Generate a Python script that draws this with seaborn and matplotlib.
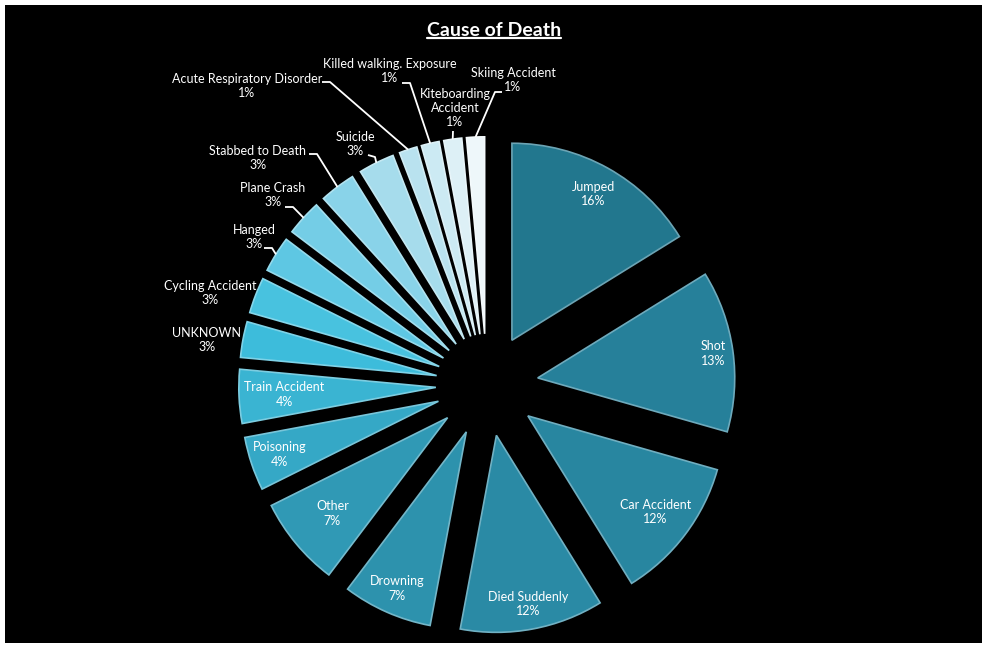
import matplotlib
matplotlib.use("Agg")
import matplotlib.pyplot as plt
import numpy as np
import seaborn as sns

###############################################################################
# Data (slices clockwise from 12 o'clock).

causes = [
    "Jumped", "Shot", "Car Accident", "Died Suddenly", "Drowning", "Other",
    "Poisoning", "Train Accident", "UNKNOWN", "Cycling Accident", "Hanged",
    "Plane Crash", "Stabbed to Death", "Suicide",
    "Acute Respiratory Disorder", "Killed walking. Exposure",
    "Kiteboarding\nAccident", "Skiing Accident",
]
deaths = [11, 9, 8, 8, 5, 5, 3, 3, 2, 2, 2, 2, 2, 2, 1, 1, 1, 1]
colors = [
    "#22778E", "#26809A", "#2886A0", "#2A8AA5", "#2D92AD", "#3099B5",
    "#35A8C6", "#3AB4D2", "#3DBCDB", "#48C2DF", "#5EC7E3", "#74CDE6",
    "#89D3E9", "#A6DCEC", "#B9E2EF", "#CCEAF3", "#DDF0F6", "#EEF7FA",
]

###############################################################################
# Layout (image pixels, y from top).

W, H = 987, 648
center_px = (487, 385)
radius = 197
explode_frac = 0.26
# inside labels: distance from the wedge tip, as a fraction of the radius
inside_dist = [0.85, 0.90, 0.81, 0.87, 0.87, 0.76, 0.85, 0.77]
# outside label centres
outer_text = {
    8: (207, 340), 9: (210, 293), 10: (254, 237), 11: (273, 195),
    12: (258, 158), 13: (355, 144), 14: (247, 86), 15: (390, 71),
    16: (455, 108), 17: (513, 80),
}
# leader line start points (the line ends on the wedge's outer arc)
leader_start = {
    10: [(264, 248), (272, 248)], 11: [(285, 207), (293, 207)],
    12: [(309, 154), (317, 154)], 13: [(368, 155), (375, 157)],
    14: [(322, 82), (330, 82)], 15: [(402, 83), (410, 83)],
    16: [(453, 131)], 17: [(502, 92), (495, 92)],
}


def py(y):
    return H - y


###############################################################################
# Plot settings.

sns.set_style("dark")
plt.rcParams["font.family"] = ["Lato", "DejaVu Sans"]

fig = plt.figure(figsize=(W / 100, H / 100), dpi=100)
fig.patch.set_facecolor("white")
ax = fig.add_axes([5 / W, 5 / H, (W - 10) / W, (H - 10) / H])
ax.set_facecolor("black")

total = sum(deaths)
pcts = ["{:.0f}%".format(100 * d / total) for d in deaths]
edge = [sns.blend_palette([c, "#ffffff"], 4)[1] for c in colors]

# explode is in data units when radius != 1
wedges, _ = ax.pie(
    deaths, colors=colors, startangle=90, counterclock=False,
    explode=[explode_frac * radius] * len(deaths), radius=radius,
    center=(center_px[0], py(center_px[1])), frame=True,
    wedgeprops=dict(linewidth=1.2))
for w, e in zip(wedges, edge):
    w.set_edgecolor(e)

ax.set_xlim(5, W - 5)
ax.set_ylim(5, H - 5)
ax.set_aspect("equal")
ax.set_xticks([])
ax.set_yticks([])
for s in ax.spines.values():
    s.set_visible(False)

###############################################################################
# Labels.

for i, w in enumerate(wedges):
    mid = np.deg2rad((w.theta1 + w.theta2) / 2)
    cx, cy = w.center
    txt = "{}\n{}".format(causes[i], pcts[i])
    if i < len(inside_dist):
        d = inside_dist[i] * w.r
        ax.text(cx + d * np.cos(mid), cy + d * np.sin(mid), txt,
                color="white", fontsize=9, ha="center", va="center",
                linespacing=1.25)
        continue
    tx, ty = outer_text[i]
    ax.text(tx, py(ty), txt, color="white", fontsize=9, ha="center",
            va="center", linespacing=1.25)
    if i in leader_start:
        ex = cx + w.r * np.cos(mid)
        ey = cy + w.r * np.sin(mid)
        pts = [(x, py(y)) for x, y in leader_start[i]] + [(ex, ey)]
        ax.plot([p[0] for p in pts], [p[1] for p in pts], color="white",
                lw=1.3, solid_capstyle="butt")

###############################################################################
# Title with underline.

title = ax.text(494, py(30), "Cause of Death", color="white", fontsize=14,
                fontweight="bold", ha="center", va="center")
fig.canvas.draw()
bb = title.get_window_extent(fig.canvas.get_renderer())
inv = ax.transData.inverted()
(x0, y0), (x1, y1) = inv.transform([(bb.x0, bb.y0), (bb.x1, bb.y1)])
ax.plot([x0, x1], [y0 + 1, y0 + 1], color="white", lw=1.6)

plt.savefig("out.png", dpi=100, facecolor=fig.get_facecolor())
plt.close()
